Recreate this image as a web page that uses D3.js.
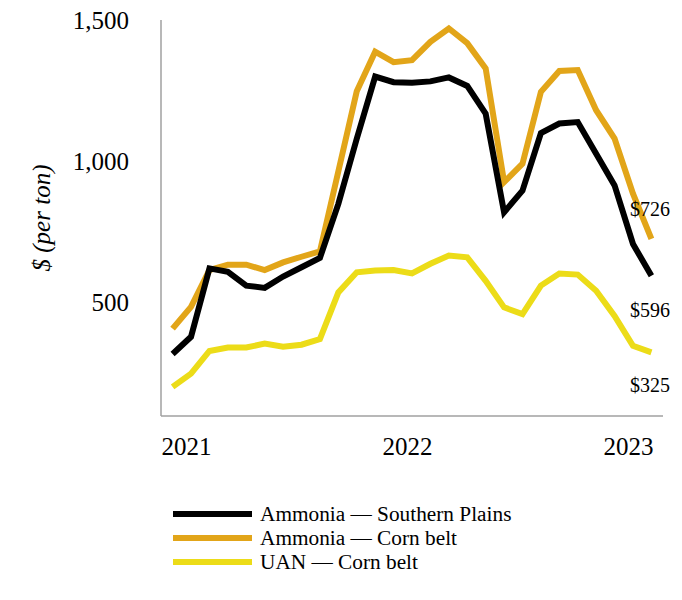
<!DOCTYPE html>
<html>
<head>
<meta charset="utf-8">
<script src="https://cdn.jsdelivr.net/npm/d3@7"></script>
<style>
  html, body { margin: 0; padding: 0; background: #fff; }
  svg { display: block; font-family: "Liberation Serif", "Times New Roman", serif; }
</style>
</head>
<body>
<svg id="chart" width="682" height="600"></svg>
<script>
// ---- data ----
const months = [
  "2021-01","2021-02","2021-03","2021-04","2021-05","2021-06","2021-07","2021-08","2021-09","2021-10","2021-11","2021-12",
  "2022-01","2022-02","2022-03","2022-04","2022-05","2022-06","2022-07","2022-08","2022-09","2022-10","2022-11","2022-12",
  "2023-01","2023-02","2023-03"
];
const ammoniaSouthernPlains = [319, 380, 622, 610, 561, 553, 593, 626, 659, 850, 1080, 1300, 1280, 1278, 1283, 1297, 1267, 1169, 820, 897, 1100, 1134, 1139, 1027, 915, 708, 596];
const ammoniaCornBelt       = [409, 486, 616, 635, 635, 616, 643, 663, 682, 965, 1248, 1388, 1351, 1358, 1423, 1470, 1418, 1329, 927, 992, 1246, 1320, 1323, 1181, 1081, 886, 726];
const uanCornBelt           = [203, 250, 330, 342, 342, 356, 345, 352, 372, 537, 608, 614, 616, 604, 638, 667, 661, 578, 484, 460, 561, 604, 600, 543, 454, 348, 325];
const seriesNames = ["Ammonia \u2014 Southern Plains", "Ammonia \u2014 Corn belt", "UAN \u2014 Corn belt"];
const seriesColors = ["#000000", "#E2A519", "#ECDC18"];
const yTicks = [500, 1000, 1500];
const yearTicks = ["2021-01", "2022-01", "2023-01"];
const yearLabels = ["2021", "2022", "2023"];
const endLabels = ["$596", "$726", "$325"];

const seriesValues = [ammoniaSouthernPlains, ammoniaCornBelt, uanCornBelt];

// ---- layout ----
const svg = d3.select("#chart");
const plotLeft = 161, plotRight = 663, plotTop = 20, plotBottom = 416;

const x = d3.scalePoint().domain(months).range([plotLeft, plotRight]).padding(0.63);
const y = d3.scaleLinear().domain([100, 1500]).range([plotBottom, plotTop]);

// axes lines
svg.append("line").attr("x1", plotLeft).attr("x2", plotLeft).attr("y1", plotTop).attr("y2", plotBottom)
  .attr("stroke", "#a0a0a0").attr("stroke-width", 1.5);
svg.append("line").attr("x1", plotLeft).attr("x2", plotRight).attr("y1", plotBottom).attr("y2", plotBottom)
  .attr("stroke", "#a0a0a0").attr("stroke-width", 1.5);

// y tick labels
const yAxis = d3.axisLeft(y).tickValues(yTicks).tickFormat(d3.format(",")).tickSize(0).tickPadding(0);
const yg = svg.append("g").attr("transform", `translate(${plotLeft - 32},0)`).call(yAxis);
yg.select(".domain").remove();
yg.selectAll("text").attr("font-family", "Liberation Serif, serif").attr("font-size", 25).attr("fill", "#000");

// y title
svg.append("text")
  .attr("transform", `translate(50,218) rotate(-90)`)
  .attr("text-anchor", "middle")
  .attr("font-size", 25).attr("font-style", "italic").attr("fill", "#000")
  .text("$ (per ton)");

// x year labels
const step = x.step();
const xg = svg.append("g");
xg.selectAll("text").data(yearTicks).join("text")
  .attr("x", (d) => x(d) + step * 0.75)
  .attr("y", 455)
  .attr("text-anchor", "middle")
  .attr("font-size", 25).attr("fill", "#000")
  .text((d, i) => yearLabels[i]);

// lines
const line = d3.line().x((d, i) => x(months[i])).y((d) => y(d)).curve(d3.curveLinear);
// draw order: yellow, orange, black on top
[2, 1, 0].forEach((k) => {
  svg.append("path")
    .datum(seriesValues[k])
    .attr("d", line)
    .attr("fill", "none")
    .attr("stroke", seriesColors[k])
    .attr("stroke-width", 6)
    .attr("stroke-linejoin", "miter");
});

// end labels
const endOffsets = [34, -30, 33];
seriesValues.forEach((vals, k) => {
  svg.append("text")
    .attr("x", 630)
    .attr("y", y(vals[vals.length - 1]) + endOffsets[k])
    .attr("dominant-baseline", "central")
    .attr("font-size", 20).attr("fill", "#000")
    .text(endLabels[k]);
});

// legend
const legend = svg.append("g");
seriesNames.forEach((name, k) => {
  const ly = 514 + k * 24;
  legend.append("line").attr("x1", 173).attr("x2", 252).attr("y1", ly).attr("y2", ly)
    .attr("stroke", seriesColors[k]).attr("stroke-width", 6);
  legend.append("text").attr("x", 260).attr("y", ly).attr("dominant-baseline", "central")
    .attr("font-size", 21.3).attr("fill", "#000").text(name);
});
</script>
</body>
</html>
